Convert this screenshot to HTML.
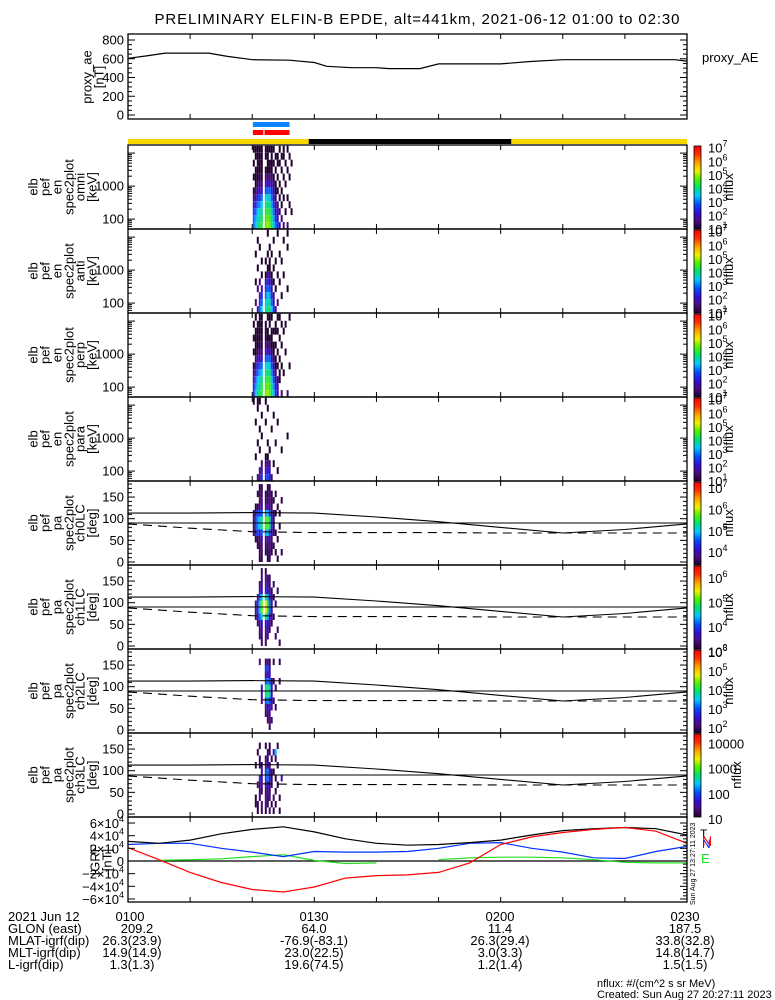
<!DOCTYPE html>
<html><head><meta charset="utf-8"><style>
html,body{margin:0;padding:0;background:#fff;}
svg{display:block;font-family:"Liberation Sans",sans-serif;}
</style></head><body>
<svg id="chart" xmlns="http://www.w3.org/2000/svg" width="775" height="1000" viewBox="0 0 775 1000">
<defs>
<linearGradient id="cb" x1="0" y1="1" x2="0" y2="0">
<stop offset="0" stop-color="#200030"/><stop offset="0.1" stop-color="#4a0c80"/><stop offset="0.2" stop-color="#3010d8"/><stop offset="0.3" stop-color="#0050ff"/><stop offset="0.4" stop-color="#00c8ff"/><stop offset="0.5" stop-color="#00e070"/><stop offset="0.6" stop-color="#50f000"/><stop offset="0.7" stop-color="#f0f000"/><stop offset="0.8" stop-color="#ffa000"/><stop offset="0.9" stop-color="#ff3000"/><stop offset="1" stop-color="#ff0000"/>
</linearGradient>
</defs>
<text x="417" y="24" font-size="15" text-anchor="middle" textLength="525">PRELIMINARY ELFIN-B EPDE, alt=441km, 2021-06-12 01:00 to 02:30</text>
<g id="marks"></g>
<g id="frames"></g>
<g id="texts" font-size="12"></g>
<g font-size="13">
<text x="8" y="921">2021 Jun 12</text>
<text x="8" y="933">GLON (east)</text>
<text x="8" y="945">MLAT-igrf(dip)</text>
<text x="8" y="957">MLT-igrf(dip)</text>
<text x="8" y="969">L-igrf(dip)</text>
<g text-anchor="middle">
<text x="130" y="921">0100</text><text x="314" y="921">0130</text><text x="500" y="921">0200</text><text x="685" y="921">0230</text>
<text x="137" y="933">209.2</text><text x="314" y="933">64.0</text><text x="500" y="933">11.4</text><text x="685" y="933">187.5</text>
<text x="132" y="945">26.3(23.9)</text><text x="314" y="945">-76.9(-83.1)</text><text x="500" y="945">26.3(29.4)</text><text x="685" y="945">33.8(32.8)</text>
<text x="132" y="957">14.9(14.9)</text><text x="314" y="957">23.0(22.5)</text><text x="500" y="957">3.0(3.3)</text><text x="685" y="957">14.8(14.7)</text>
<text x="132" y="969">1.3(1.3)</text><text x="314" y="969">19.6(74.5)</text><text x="500" y="969">1.2(1.4)</text><text x="685" y="969">1.5(1.5)</text>
</g></g>
<text x="597" y="987" font-size="11">nflux: #/(cm^2 s sr MeV)</text>
<text x="597" y="998" font-size="11">Created: Sun Aug 27 20:27:11 2023</text>
<text transform="translate(695,905) rotate(-90)" font-size="7">Sun Aug 27 13:27:11 2023</text>
<text x="700" y="838" font-size="12" fill="#000">T</text>
<text x="702" y="846" font-size="14" fill="#ff0000">N</text>
<text x="702" y="848" font-size="12" fill="#0030ff">N</text>
<text x="701" y="863" font-size="13" fill="#20e020">E</text>
<text x="702" y="62" font-size="13">proxy_AE</text>
</svg>
<script>
// ---------- data ----------
const aeTimes=[0,3,6,13,16,19,20,26,30,32,36,40,42,47,50,60,64.5,70,88,90];
const aeValues=[605,630,660,660,625,600,590,585,560,520,505,505,495,495,545,545,570,590,590,575];
const igrfTimes=[0,5,10,15,20,25,30,35,40,45,50,55,60,65,70,75,80,85,90];
const igrfTotal=[3.1,2.8,3.3,4.3,5.0,5.4,4.6,3.5,2.8,2.5,2.6,2.9,3.3,4.1,4.8,5.1,5.3,5.1,4.1];
const igrfNorth=[2.1,0.2,-1.8,-3.4,-4.5,-4.9,-4.1,-2.7,-2.3,-2.2,-1.8,-0.3,2.6,3.8,4.5,5.0,5.3,4.7,2.8];
const igrfUp=[2.6,2.8,2.8,2.0,1.4,0.7,1.5,1.4,1.4,1.5,2.0,2.8,2.9,2.0,1.4,0.5,0.4,1.5,2.3];
const igrfEast=[null,0.1,0.2,0.35,0.7,1.0,0.1,-0.4,-0.3,null,0.2,0.5,0.6,0.6,0.5,0.2,-0.2,-0.3,-0.3];
const lcTimes=[0,10,20,30,40,50,60,70,80,90];
const lcSolid=[113,113,114,113,104,93,80,67,75,88];
const lcFlat=[90,90,90,90,90,90,90,90,90,90];
const lcDashed=[88,78,70,68,68,68,67,67,67,67];
const colTimes=[20.1,20.42,20.74,21.06,21.38,21.7,22.02,22.34,22.66,22.98,23.3,23.62,23.94,24.26,24.58,24.9,25.22,25.54,25.86,26.18];
const aeTicks=[0,200,400,600,800];
const energyTicks=[2,3];
const paTicks=[0,50,100,150];
const igrfTicks=[6,4,2,0,-2,-4,-6];
const scienceBars=[[20.1,26.0]];
const nightBar=[29.1,61.7];
const specOmni=[
[3,3,2.5,2,1.5,1,0,1,0,1,0,1],[3.5,3.3,3,2.5,2,1.5,1,1,1,0,1,1],[4,3.8,3.5,3,2.5,2,1.5,1,1,1,1,1],[4.2,4,3.7,3.2,2.7,2,1.5,1.2,1,1,1,1],
[4.5,4.2,4,3.5,3,2.2,1.5,1.2,1,1,1,1],[0,0,0,0,0,0,0,0,0,0,0,0],[4.8,4.6,4.3,4,3.5,2.8,2,1.5,1,0,1,1],[5,4.8,4.5,4.2,3.8,3,2.2,1.5,1,1,1,1],
[4.8,4.6,4.3,4,3.5,3,2,1.5,1,1,0,1],[4.2,4,3.7,3.3,3,2.5,2,1.5,1,1,1,1],[3.5,3.3,3,2.5,2,2,1.5,1,0,1,0,1],[3,2.5,2,2,1.5,1,1,0,1,0,1,0],
[2.5,2,2,1.5,0,1,0,1,0,1,1,0],[2,0,1.5,0,1,0,1,0,0,1,0,1],[0,1.5,0,1,0,1,0,0,1,0,1,0],[1.5,0,0,0,1,0,0,1,0,0,1,1],
[0,0,1,0,0,0,1,0,0,1,0,0],[1.5,0,0,0,1,0,0,0,1,0,0,1],[0,0,0,1,0,0,0,1,0,0,1,0],[0,0,1,0,0,0,0,0,0,1,0,0]];
const specAnti=[
[0,0,0,0,0,0,0,0,0,0,0,0],[0,1.5,0,0,1,0,0,0,1,0,0,0],[2,0,0,1.5,0,0,1,0,0,0,1,0],[3,2.5,2,0,1.5,0,0,0,0,1,0,0],
[3.5,3,2.5,2,0,1,0,1,0,0,0,0],[0,0,0,0,0,0,0,0,0,0,0,0],[3.8,3.5,3,2.5,2,1,0,1,0,0,0,0],[4.3,4,3.6,3,2.5,2,1,0,1,0,0,1],
[4,3.8,3.3,2.8,2,1.5,1,1,0,1,0,0],[3.5,3,2.5,2,1.5,1,0,0,1,0,0,0],[2.5,2,1.5,0,1,0,1,0,0,0,1,0],[2,0,0,1,0,0,0,1,0,0,0,0],
[0,1.5,0,0,0,1,0,0,0,0,0,1],[0,0,0,0,1,0,0,0,1,0,0,0],[0,0,1,0,0,0,0,1,0,0,0,0],[0,0,0,0,0,1,0,0,0,0,1,0],
[0,0,0,0,0,0,0,0,0,0,0,0],[0,0,0,1,0,0,0,0,0,1,0,1],[0,0,0,0,0,0,0,0,0,0,0,0],[0,0,0,0,0,0,0,0,0,0,0,0]];
const specPerp=[
[2.5,2.5,2,1.5,1,0,1,0,1,0,1,0],[3.5,3.2,3,2.5,2,1.5,1,1,1,1,0,1],[4,3.8,3.5,3,2.5,2,1.5,1,1,1,1,0],[4.2,4,3.8,3.3,2.8,2,1.5,1.2,1,1,1,1],
[4.5,4.3,4,3.5,3,2.2,1.5,1.2,1.2,1,1,1],[0,0,0,0,0,0,0,0,0,0,0,0],[4.8,4.6,4.3,4,3.5,2.8,2,1.5,1,1,1,0],[5,4.8,4.6,4.2,3.8,3,2.2,1.5,1,1,0,1],
[4.8,4.6,4.3,4,3.5,3,2,1.5,1,0,1,1],[4,3.8,3.5,3.2,2.8,2.2,1.5,1,1,1,0,1],[3.5,3.2,2.8,2.3,2,1.5,1,1,0,1,0,0],[2.5,2.2,2,1.5,1,1,0,1,0,1,1,0],
[2,2,1.5,0,1,0,1,0,0,1,0,1],[0,0,1,1,0,1,0,0,1,0,0,1],[1.5,0,0,0,1,0,0,1,0,0,1,0],[0,0,0,1,0,0,0,0,0,1,0,0],
[0,0,0,0,0,0,1,0,0,0,1,0],[1.5,0,0,0,0,0,0,0,0,0,0,0],[0,0,0,0,1,0,0,0,0,0,0,1],[0,0,0,0,0,0,0,0,0,0,0,0]];
const specPara=[
[0,0,0,0,0,0,0,0,0,0,0,1],[0,0,0,1,0,0,0,0,1,0,0,0],[1.5,0,0,0,0,1,0,0,0,0,1,1],[2,1.5,0,0,1,0,0,1,0,0,0,1],
[2.5,2,1.5,0,0,0,1,0,0,1,0,0],[0,0,0,0,0,0,0,0,0,0,0,0],[2.5,2,1.5,1,0,0,0,0,1,0,0,1],[2.8,2.3,1.8,1,0,1,0,0,0,0,1,0],
[2.2,2,1.5,0,1,0,0,0,0,0,0,0],[1.5,0,0,0,0,0,0,1,0,0,0,0],[0,0,1,0,0,0,0,0,0,1,0,0],[0,0,0,0,0,1,0,0,0,0,0,0],
[0,1,0,0,0,0,0,0,1,0,0,0],[0,0,0,0,0,0,0,0,0,0,0,0],[0,0,0,0,1,0,0,0,0,0,0,0],[0,0,0,0,0,0,0,0,0,0,0,0],
[0,0,0,0,0,0,0,0,0,0,0,0],[0,0,0,0,0,0,1,0,0,0,0,0],[0,0,0,0,0,0,0,0,0,0,0,0],[0,0,0,0,0,0,0,0,0,0,0,0]];
const pa0=[
[0,0,0,0,3.6,3.6,3.6,3.6,0,0,0,0],[0,0,0,3.5,4.3,4.5,4.5,4.2,3.5,0,0,0],[0,0,3.5,3.6,4.5,4.8,4.8,4.5,3.6,0,3.5,0],[3.5,3.6,3.6,3.8,4.2,5.0,5.0,4.5,3.8,3.7,3.6,3.5],
[3.6,3.7,3.8,4,4.6,5.4,5.4,4.6,4,3.8,3.7,3.6],[0,0,0,0,0,0,0,0,0,0,0,0],[0,3.5,3.6,3.8,4.8,5.6,5.6,4.8,3.8,3.6,3.5,0],[3.5,3.6,3.7,4,5,5.8,5.8,5,4,3.7,3.6,3.5],
[3.6,3.7,3.8,3.9,4.5,5.2,5.2,4.5,3.9,3.8,3.7,3.6],[0,3.5,3.6,3.7,4,4.3,4.3,4,3.7,3.6,3.5,0],[0,0,3.5,0,3.6,3.6,3.6,3.6,0,3.5,0,0],[0,3.5,0,0,3.5,0,0,3.5,0,0,3.5,0],
[3.5,0,0,3.5,0,0,0,0,3.5,0,0,0],[0,0,0,0,0,3.5,0,3.5,0,0,0,0],[0,3.5,0,0,0,0,0,0,0,3.5,0,0],[0,0,0,0,0,0,0,0,0,0,0,0],
[0,0,0,0,0,0,0,0,0,0,0,0],[0,0,0,0,0,0,0,0,0,0,0,0],[0,0,0,0,0,0,0,0,0,0,0,0],[0,0,0,0,0,0,0,0,0,0,0,0]];
const pa1=[
[0,0,0,0,0,0,0,0,0,0,0,0],[0,0,0,0,3.4,3.5,3.5,0,0,0,0,0],[0,0,0,3.3,3.8,4,4,3.6,0,0,0,0],[0,3.3,3.4,3.6,4.2,4.6,4.6,4.2,3.6,3.4,0,0],
[3.3,3.4,3.5,3.7,4.6,5.2,5.2,4.6,3.7,3.5,3.4,3.3],[0,0,0,0,0,0,0,0,0,0,0,0],[3.3,3.4,3.6,3.8,4.8,5.5,5.5,4.8,3.8,3.6,3.4,3.3],[0,3.4,3.5,3.7,4.4,5.0,5.0,4.4,3.7,3.5,3.4,0],
[0,0,3.4,3.5,3.8,4.2,4.2,3.8,3.5,3.4,3.3,0],[0,0,0,3.3,3.5,3.6,3.6,3.5,3.3,0,0,0],[0,0,0,0,3.3,0,0,3.3,0,3.3,0,0],[0,3.3,0,0,0,0,3.3,0,0,0,0,0],
[0,0,3.3,0,0,0,0,0,3.3,0,0,0],[3.3,0,0,0,0,0,0,0,0,0,0,0],[0,0,0,0,0,0,0,0,0,0,0,0],[0,0,0,0,0,0,0,0,0,0,0,0],
[0,0,0,0,0,0,0,0,0,0,0,0],[0,0,0,0,0,0,0,0,0,0,0,0],[0,0,0,0,0,0,0,0,0,0,0,0],[0,0,0,0,0,0,0,0,0,0,0,0]];
const pa2=[
[0,0,0,0,0,0,0,0,0,0,0,0],[0,0,0,0,0,0,0,0,0,0,0,0],[0,0,0,0,0,0,0,0,0,0,0,0],[0,0,0,0,0,0,0,0,0,0,2.2,0],
[0,0,0,0,2.2,2.5,2.5,0,0,0,0,0],[0,0,0,0,0,0,0,0,0,0,0,0],[0,0,2.0,2.2,3.0,3.8,3.8,3.0,2.2,2.8,2.0,0],[0,2.0,2.2,2.5,3.3,4.2,4.2,3.3,2.6,3.0,2.2,0],
[2.0,2.2,2.3,2.5,3.0,3.5,3.5,3.0,2.5,2.3,2.0,0],[0,2.0,0,2.2,2.5,2.5,2.5,2.2,0,0,0,0],[0,0,0,0,2.0,0,0,2.0,0,0,2.0,0],[0,0,0,2.0,0,0,2.0,0,0,0,0,0],
[0,0,0,0,0,0,0,0,0,0,0,0],[0,0,0,0,0,0,0,2.0,0,0,2.0,0],[0,0,0,0,0,0,0,0,0,0,0,0],[0,0,0,0,0,0,0,0,0,0,0,0],
[0,0,0,0,0,0,0,0,0,0,0,0],[0,0,0,0,0,0,0,0,0,0,0,0],[0,0,0,0,0,0,0,0,0,0,0,0],[0,0,0,0,0,0,0,0,0,0,0,0]];
const pa3=[
[0,0,0,0,0,0,0,0,0,0,0,0],[0,1.2,1.2,0,0,0,0,1.2,0,0,0,0],[1.2,1.2,0,0,1.3,0,0,0,0,1.2,0,0],[0,0,1.3,1.3,1.4,1.8,0,1.2,1.3,0,1.2,0],
[1.3,1.4,0,1.3,1.5,1.5,1.5,1.3,0,0,0,0],[0,0,0,0,0,0,0,0,0,0,0,0],[1.2,1.3,1.4,1.3,1.6,2.0,2.0,1.5,1.3,0,1.2,0],[0,1.3,1.3,1.5,1.7,2.2,2.2,1.6,1.4,1.3,0,0],
[1.3,0,1.4,1.3,1.5,1.8,1.6,1.4,0,1.3,1.2,0],[0,1.2,0,0,1.3,1.3,1.3,0,1.2,0,0,0],[1.2,0,1.3,0,0,0,1.2,0,0,1.6,0,0],[0,1.2,0,1.2,0,1.2,0,0,1.3,2.4,0,0],
[0,0,0,0,1.2,0,0,1.2,0,0,1.2,0],[1.2,0,1.2,0,0,0,0,0,0,0,0,0],[0,0,0,0,0,1.6,0,0,0,0,0,0],[0,0,0,0,0,0,0,0,0,0,0,0],
[0,0,0,0,0,0,0,0,0,0,0,0],[0,0,0,0,0,0,0,0,0,0,0,0],[0,0,0,0,0,0,0,0,0,0,0,0],[0,0,0,0,0,0,0,0,0,0,0,0]];

// ---------- layout ----------
const NS="http://www.w3.org/2000/svg";
const X0=128,X1=687,CBX=694,CBW=7;
function xT(t){return X0+(X1-X0)*t/90;}
const marks=document.getElementById('marks'),frames=document.getElementById('frames'),texts=document.getElementById('texts');
function mk(tag,attrs,parent){const e=document.createElementNS(NS,tag);for(const k in attrs)e.setAttribute(k,attrs[k]);parent.appendChild(e);return e;}
const stops=[[0,[32,0,48]],[0.1,[74,12,128]],[0.2,[48,16,216]],[0.3,[0,80,255]],[0.4,[0,200,255]],[0.5,[0,224,112]],[0.6,[80,240,0]],[0.7,[240,240,0]],[0.8,[255,160,0]],[0.9,[255,48,0]],[1,[255,0,0]]];
function cmap(f){f=Math.max(0,Math.min(1,f));for(let i=1;i<stops.length;i++){if(f<=stops[i][0]){const a=stops[i-1],b=stops[i];const u=(f-a[0])/(b[0]-a[0]);const c=a[1].map((v,j)=>Math.round(v+(b[1][j]-v)*u));return 'rgb('+c.join(',')+')';}}return 'rgb(255,0,0)';}
function frame(top,bot,name){
  const r=mk('rect',{x:X0,y:top,width:X1-X0,height:bot-top,fill:'none',stroke:'#000','stroke-width':1.3},frames);
  
  
  for(let m=10;m<90;m+=10){const x=xT(m);
    const t1=mk('line',{x1:x,x2:x,y1:top,y2:top+5,stroke:'#000'},frames);
    
    
    const t2=mk('line',{x1:x,x2:x,y1:bot,y2:bot-5,stroke:'#000'},frames);
    
    }
}
function ytick(y,label,isMajor){
  const len=isMajor?7:4;
  const a=mk('line',{x1:X0,x2:X0+len,y1:y,y2:y,stroke:'#000'},frames);
  
  
  const b=mk('line',{x1:X1,x2:X1-len,y1:y,y2:y,stroke:'#000'},frames);
  
  
  if(label!==null){const t=mk('text',{x:X0-4,y:y+4.5,'text-anchor':'end','font-size':13},texts);t.textContent=label;
    
    }
}
function sideLabel(lines,cy,xs,name){
  const g=mk('g',{},texts);
  
  
  lines.forEach((s,i)=>{const t=mk('text',{transform:'translate('+xs[i]+','+cy+') rotate(-90)','text-anchor':'middle','dominant-baseline':'central','font-size':13},g);t.textContent=s;});
}
function polyline(times,vals,yf,attrs,name){
  let segs=[],cur=[];
  times.forEach((t,i)=>{if(vals[i]===null){if(cur.length)segs.push(cur);cur=[];}else cur.push(xT(t).toFixed(1)+','+yf(vals[i]).toFixed(1));});
  if(cur.length)segs.push(cur);
  segs.forEach(s=>{const p=mk('polyline',Object.assign({points:s.join(' '),fill:'none'},attrs),marks);
    
    });
}
function colorbar(top,bot,lo,hi,labels,name){
  const r=mk('rect',{x:CBX,y:top+1,width:CBW,height:bot-top-1,fill:'url(#cb)',stroke:'#000','stroke-width':0.8},frames);
  
  
  labels.forEach(l=>{const y=bot-(l[0]-lo)/(hi-lo)*(bot-top);
    const t=mk('text',{x:CBX+CBW+7,y:y+5,'font-size':13},texts);
    
    
    if(l[1]){t.textContent=l[1];}else{t.textContent='10';const s=mk('tspan',{dy:-6,'font-size':9},t);s.textContent=String(l[0]);}
  });
  const n=mk('text',{transform:'translate('+(CBX+CBW+32+(name==='colorbar-8'?8:0))+','+((top+bot)/2)+') rotate(-90)','text-anchor':'middle','font-size':13},texts);
  n.textContent='nflux';
  
  
}
function cells(data,top,bot,nb,yOfBin,lo,hi,name){
  const dt=colTimes[1]-colTimes[0];
  data.forEach((col,ci)=>{col.forEach((v,bi)=>{if(!v)return;
    const y1=yOfBin(bi+1),y2=yOfBin(bi);
    const r=mk('rect',{x:xT(colTimes[ci]).toFixed(1),y:y1.toFixed(1),width:(xT(colTimes[ci]+dt)-xT(colTimes[ci])).toFixed(1),height:(y2-y1).toFixed(1),fill:cmap((v-lo)/(hi-lo))},marks);
    
    
  });});
}

// proxy AE panel
(function(){const top=34,bot=119;const yAE=v=>115-v*75/800;
  frame(top,bot,'proxy-ae-panel');
  for(let v=0;v<=800;v+=50)ytick(yAE(v),aeTicks.includes(v)?String(v):null,aeTicks.includes(v));
  polyline(aeTimes,aeValues,yAE,{stroke:'#000','stroke-width':1.2},'proxy-ae-line');
  sideLabel(['proxy_ae','[nT]'],77,[87,99],'proxy-ae-axis-title');
})();
// science zone bars
scienceBars.forEach(b=>{
  const r1=mk('rect',{x:xT(b[0]),y:122,width:xT(b[1])-xT(b[0]),height:5,fill:'#0a84ff'},marks);
  
  
  const r2=mk('rect',{x:xT(b[0]),y:130,width:xT(b[1])-xT(b[0]),height:5,fill:'#ff0000'},marks);
  
  
  const g=mk('rect',{x:xT(b[0])+10.5,y:130,width:1.2,height:5,fill:'#fff'},marks);
  
  
});
(function(){
  const y=mk('rect',{x:X0,y:139,width:X1-X0,height:5,fill:'#f6d800'},marks);
  
  
  const n=mk('rect',{x:xT(nightBar[0]),y:139,width:xT(nightBar[1])-xT(nightBar[0]),height:5,fill:'#000'},marks);
  
  
})();
// energy spectrograms
const specSets=[specOmni,specAnti,specPerp,specPara];
const specNames=['omni','anti','perp','para'];
specSets.forEach((data,i)=>{
  const top=145+84*i,bot=top+84;
  const yE=l=>bot-(l-1.7)*33;
  const yBin=b=>yE(1.7+b*0.21);
  cells(data,top,bot,12,yBin,1,7.2,'spec-'+specNames[i]);
  frame(top,bot,'energy-panel-'+specNames[i]);
  for(let d=1;d<=4;d++)for(let m=1;m<10;m++){const l=d+Math.log10(m);const y=yE(l);if(y<top+1||y>bot-1)continue;
    ytick(y,m===1&&energyTicks.includes(d)?String(Math.pow(10,d)):null,m===1);}
  sideLabel(['elb','pef','en','spec2plot',specNames[i],'[keV]'],top+42,[33,45,57,69,80,92],'energy-axis-title-'+specNames[i]);
  colorbar(top,bot,1,7.2,[[7],[6],[5],[4],[3],[2],[1]],'colorbar-'+(i+1));
});
// pitch angle spectrograms
const paSets=[pa0,pa1,pa2,pa3];
const paRanges=[[3.4,7.33],[3.1,6.53],[1.74,6.16],[1.08,4.42]];
const paLabels=[[[7],[6],[5],[4]],[[6],[5],[4],[3]],[[6],[5],[4],[3],[2]],[[4,'10000'],[3,'1000'],[2,'100'],[1,'10']]];
paSets.forEach((data,i)=>{
  const top=481+84*i,bot=top+84;
  const yP=d=>top+81-d*0.433;
  cells(data,top,bot,12,b=>yP(b*15),paRanges[i][0],paRanges[i][1],'pa-ch'+i);
  polyline(lcTimes,lcSolid,yP,{stroke:'#000','stroke-width':1.1},'loss-cone-line');
  polyline(lcTimes,lcFlat,yP,{stroke:'#000','stroke-width':1.1},'ninety-degree-line');
  polyline(lcTimes,lcDashed,yP,{stroke:'#000','stroke-width':1.1,'stroke-dasharray':'9,6'},'anti-loss-cone-line');
  frame(top,bot,'pa-panel-ch'+i);
  for(let d=0;d<=180;d+=10)ytick(yP(d),paTicks.includes(d)?String(d):null,d%50===0);
  sideLabel(['elb','pef','pa','spec2plot','ch'+i+'LC','[deg]'],top+42,[33,45,57,69,80,92],'pa-axis-title-ch'+i);
  colorbar(top,bot,paRanges[i][0],paRanges[i][1],paLabels[i],'colorbar-'+(i+5));
});
// IGRF panel
(function(){const top=817,bot=902;const yB=v=>861-v*6.33;
  const z=mk('line',{x1:X0,x2:X1,y1:yB(0),y2:yB(0),stroke:'#000','stroke-width':1.2},marks);
  
  
  polyline(igrfTimes,igrfEast,yB,{stroke:'#20e020','stroke-width':1.2},'igrf-east-line');
  polyline(igrfTimes,igrfUp,yB,{stroke:'#0030ff','stroke-width':1.2},'igrf-up-line');
  polyline(igrfTimes,igrfTotal,yB,{stroke:'#000','stroke-width':1.2},'igrf-total-line');
  polyline(igrfTimes,igrfNorth,yB,{stroke:'#ff0000','stroke-width':1.2},'igrf-north-line');
  frame(top,bot,'igrf-panel');
  igrfTicks.forEach(v=>{const y=yB(v);
    const a=mk('line',{x1:X0,x2:X0+7,y1:y,y2:y,stroke:'#000'},frames);
    
    
    const t=mk('text',{x:X0-4,y:y+5,'text-anchor':'end','font-size':13},texts);
    
    
    if(v===0){t.textContent='0';}else{t.textContent=(v<0?'\u2212':'')+Math.abs(v)+'\u00d710';const s=mk('tspan',{dy:-6,'font-size':9},t);s.textContent='4';}
  });
  for(let v=-6;v<=6;v+=0.5){const y=yB(v);const b=mk('line',{x1:X1,x2:X1-(v%2===0?7:4),y1:y,y2:y,stroke:'#000'},frames);
    
    }
  sideLabel(['IGRF','[nT]'],860,[95,107],'igrf-axis-title');
})();
</script>
</body></html>
